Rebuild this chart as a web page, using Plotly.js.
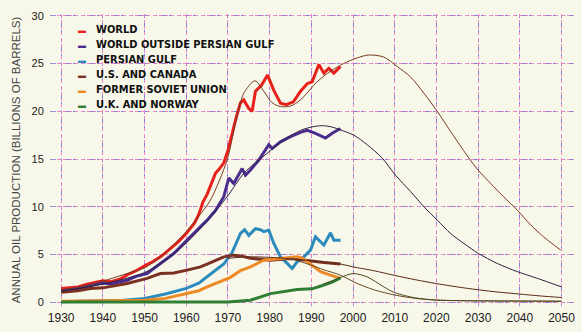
<!DOCTYPE html>
<html><head><meta charset="utf-8">
<script src="https://cdn.plot.ly/plotly-3.0.1.min.js"></script>
<style>html,body{margin:0;padding:0;background:#f7f8e9;}#chart{width:582px;height:332px;}</style>
</head><body><div id="chart"></div>
<script>
// ---- historical production (billions of barrels / year) ----
const worldYears = [1930,1932,1934,1936,1938,1940,1942,1944,1946,1948,1950,1952,1954,1956,1958,1960,1962,1963,1964,1965,1966,1967,1968,1969,1970,1971,1972,1973,1973.8,1975,1975.8,1976.6,1978,1979.5,1981,1982.6,1984,1985.7,1987.4,1989,1990.2,1991.8,1993,1994.2,1995.4,1997];
const worldVals  = [1.44,1.5,1.6,1.85,2.05,2.25,2.15,2.4,2.9,3.3,3.8,4.25,4.8,5.5,6.3,7.2,8.3,9.2,10.5,11.3,12.5,13.5,14.0,14.6,15.9,17.7,19.4,20.9,21.2,20.3,20.0,22.1,22.7,23.8,22.2,20.85,20.7,21.0,22.1,22.9,23.1,24.9,24.0,24.5,24.0,24.7];

const wopgYears = [1930,1934,1938,1940,1942,1945.8,1948,1950.6,1953.8,1957,1960.2,1963.4,1965,1967,1969,1970.2,1971.4,1973.4,1974.2,1975.4,1977.4,1979.8,1980.6,1982.6,1985,1987.4,1989,1991,1993.4,1995,1997];
const wopgVals  = [1.2,1.4,1.85,2.0,1.9,2.3,2.7,3.0,4.06,5.1,6.5,7.9,8.6,9.6,11.05,13.0,12.45,14.0,13.3,13.85,14.9,16.5,16.1,16.8,17.35,17.8,18.0,17.7,17.2,17.7,18.2];

const pgYears = [1930,1940,1945,1950,1955,1960,1963,1966,1969,1971,1972,1973,1974,1975,1976.6,1977.8,1978.6,1979.8,1981,1982.6,1984.2,1985.4,1986.6,1988.2,1989.8,1991,1992.2,1993,1994.6,1995.4,1997];
const pgVals  = [0.05,0.1,0.2,0.4,0.85,1.45,2.0,3.0,4.0,5.2,6.3,7.2,7.6,7.0,7.7,7.6,7.4,7.55,6.15,4.75,4.06,3.53,4.23,4.75,5.46,6.85,6.33,5.98,7.27,6.5,6.5];

const usYears = [1930,1934,1937,1940,1945.8,1950.6,1953.8,1957,1960.2,1963.4,1965,1969,1971.4,1973,1975.4,1977.8,1980.2,1985,1989.8,1993,1997];
const usVals  = [1.05,1.2,1.44,1.5,1.96,2.49,3.0,3.07,3.36,3.7,4.0,4.75,4.93,4.85,4.6,4.5,4.4,4.58,4.3,4.15,4.0];

const fsuYears = [1930,1940,1945,1950,1955,1960,1963,1965,1970.6,1973,1975.4,1978.6,1983.4,1986.6,1988,1989.8,1992.2,1994.6,1997];
const fsuVals  = [0.1,0.15,0.1,0.2,0.4,0.9,1.2,1.6,2.6,3.3,3.7,4.4,4.58,4.75,4.6,4.0,3.2,2.83,2.49];

const ukYears = [1930,1965,1970,1975.4,1980.2,1986.6,1990.2,1993,1995,1997];
const ukVals  = [0.02,0.02,0.03,0.2,0.9,1.33,1.4,1.8,2.1,2.55];

// ---- fitted curves and projections ----
const worldFitYears = [1930,1935,1940,1945,1950,1955,1960,1963,1965.8,1969.8,1971.8,1973.8,1976.5,1978.6,1980.6,1982.6,1985,1987.4,1991.4,1994.6,1997.7,2001,2003.7,2007.3,2010.6,2013.8,2017,2020.2,2023.4,2026.5,2029.7,2033,2036.1,2039.4,2042.6,2045.7,2049.8];
const worldFitVals  = [1.3,1.65,2.2,2.9,3.6,5.2,7.4,9.0,10.7,14.9,18.75,21.9,23.2,22.1,20.9,20.5,20.55,21.2,23.1,24.2,25.0,25.6,25.9,25.7,24.7,23.6,21.9,20.0,17.9,15.9,14.0,12.45,11.05,9.65,8.1,6.85,5.46];

const wopgFitYears = [1930,1940,1950,1955,1960,1965,1969.8,1974,1979.4,1983,1987.4,1990,1992.6,1995,1997,2000.2,2003.4,2007,2010.2,2013.8,2017,2020.2,2023.4,2026.6,2030.1,2034.6,2039.4,2044.2,2050];
const wopgFitVals  = [1.15,1.9,3.1,4.4,6.2,8.5,11.05,13.6,15.6,16.9,18.0,18.35,18.5,18.35,18.05,17.5,16.5,15.1,13.3,11.6,10.0,8.6,7.2,6.15,5.1,4.06,3.2,2.5,1.6];

const usFitYears = [1970,1975,1980,1985,1990,1997,2000,2005,2010,2015,2020,2025,2030,2035,2040,2045,2050];
const usFitVals  = [4.6,4.75,4.7,4.55,4.35,4.0,3.7,3.3,2.8,2.35,1.95,1.6,1.3,1.05,0.85,0.65,0.49];

const fsuFitYears = [1985,1989.8,1993,1997,2001,2005,2010,2015,2020,2030,2040,2050];
const fsuFitVals  = [4.6,3.9,3.4,2.83,1.96,1.3,0.75,0.4,0.22,0.14,0.12,0.1];

const ukFitYears = [1993,1997,2000,2003.4,2007.4,2010,2015,2020,2030,2050];
const ukFitVals  = [1.9,2.59,3.0,2.65,1.6,1.0,0.45,0.22,0.14,0.1];

const seriesNames  = ["WORLD","WORLD OUTSIDE PERSIAN GULF","PERSIAN GULF","U.S. AND CANADA","FORMER SOVIET UNION","U.K. AND NORWAY"];
const seriesColors = ["#e8201c","#4a2c8f","#2b8bbd","#7b3122","#ec8a25","#2f7f34"];

const xTicks = [1930,1940,1950,1960,1970,1980,1990,2000,2010,2020,2030,2040,2050];
const yTicks = [0,5,10,15,20,25,30];

const dataX = [worldYears,wopgYears,pgYears,usYears,fsuYears,ukYears];
const dataY = [worldVals,wopgVals,pgVals,usVals,fsuVals,ukVals];

const traces = [];
dataX.forEach((xs,i)=>{
  traces.push({x:xs,y:dataY[i],type:'scatter',mode:'lines',name:seriesNames[i],
    line:{color:seriesColors[i],width:3},showlegend:false,hoverinfo:'skip'});
});
const fits = [
  [worldFitYears,worldFitVals,'#7a3a22'],
  [wopgFitYears,wopgFitVals,'#2e2040'],
  [usFitYears,usFitVals,'#5a2a1a'],
  [fsuFitYears,fsuFitVals,'#6a4a20'],
  [ukFitYears,ukFitVals,'#4a4a20']
];
fits.forEach(f=>{
  traces.push({x:f[0],y:f[1],type:'scatter',mode:'lines',line:{color:f[2],width:1,shape:'spline',smoothing:0.8},showlegend:false,hoverinfo:'skip'});
});
// overlay axes for the second (pink) grid
traces.push({x:[],y:[],xaxis:'x2',yaxis:'y2',type:'scatter',mode:'lines',showlegend:false});

const L=57,T=14,W=517,H=292;
const annotations = [];
seriesNames.forEach((n,i)=>{
  const py = 29.3 + i*14.95;
  const yp = 1 - (py - T)/H;
  annotations.push({xref:'paper',yref:'paper',x:(82-L)/W,y:yp,xanchor:'center',yanchor:'middle',
    text:'▬',showarrow:false,font:{size:8,color:seriesColors[i]}});
  annotations.push({xref:'paper',yref:'paper',x:(94-L)/W,y:yp,xanchor:'left',yanchor:'middle',
    text:n,showarrow:false,font:{size:11,weight:700,color:'#111',family:'"DejaVu Sans Condensed","Liberation Sans Narrow",Arial,sans-serif'}});
});

const axisFont = {family:'"Liberation Sans",Arial,sans-serif',size:12,color:'#222'};
const layout = {
  width:582,height:332,
  margin:{l:L,r:582-L-W,t:T,b:332-T-H},
  paper_bgcolor:'#f7f8e9',plot_bgcolor:'#f7f8e9',
  showlegend:false,
  xaxis:{range:[1929,2053],tickvals:xTicks,ticktext:xTicks.map(String),showgrid:true,
    gridcolor:'#7d80d8',griddash:'4px,4px',gridwidth:1,zeroline:false,showline:false,
    ticks:'',tickfont:axisFont,ticklabelstandoff:3},
  yaxis:{range:[-0.4,30.2],tickvals:yTicks,ticktext:yTicks.map(String),showgrid:true,
    gridcolor:'#7d80d8',griddash:'4px,4px',gridwidth:1,zeroline:false,showline:false,
    ticks:'outside',ticklen:6,tickcolor:'#9a92dc',tickfont:{family:'"Liberation Sans",Arial,sans-serif',size:11,color:'#222'},
    ticklabelstandoff:4,
    title:{text:'ANNUAL OIL PRODUCTION (BILLIONS OF BARRELS)',font:{family:'"Liberation Sans",Arial,sans-serif',size:11.5,color:'#444',weight:400},standoff:8}},
  xaxis2:{range:[1929,2053],tickvals:xTicks,overlaying:'x',anchor:'y2',showgrid:true,gridcolor:'#ee86c8',griddash:'dot',
    gridwidth:1,zeroline:false,showticklabels:false,ticks:''},
  yaxis2:{range:[-0.4,30.2],tickvals:yTicks,overlaying:'y',anchor:'x2',showgrid:true,gridcolor:'#ee86c8',griddash:'dot',
    gridwidth:1,zeroline:false,showticklabels:false,ticks:''},
  annotations:annotations
};
Plotly.newPlot('chart',traces,layout,{displayModeBar:false,staticPlot:true});
</script></body></html>
